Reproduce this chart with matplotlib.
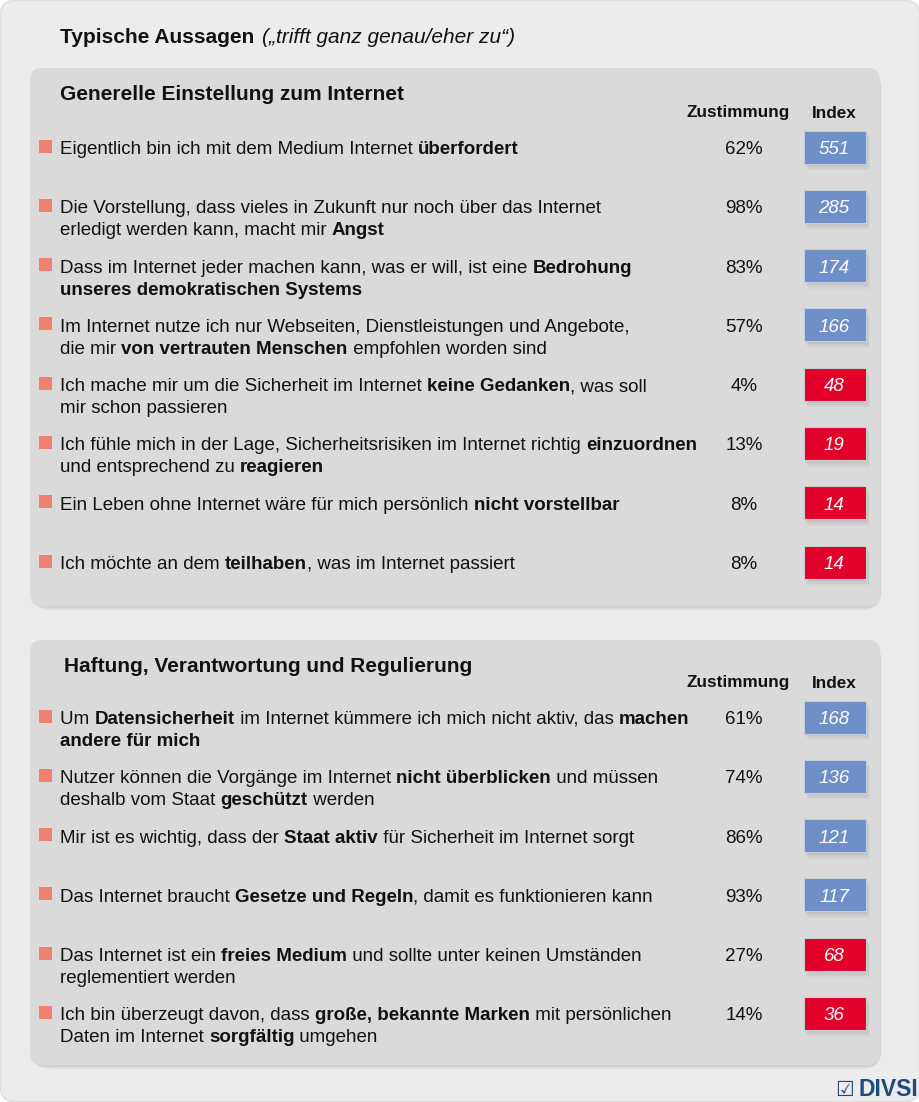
import matplotlib
matplotlib.use("Agg")
import matplotlib.pyplot as plt
from matplotlib.patches import FancyBboxPatch, Rectangle

plt.rcParams["font.family"] = ["Liberation Sans", "DejaVu Sans"]

W, H = 920, 1102

TITLE = "Typische Aussagen"
TITLE_NOTE = "(„trifft ganz genau/eher zu“)"

SECTION1 = "Generelle Einstellung zum Internet"
STATEMENTS1 = [
    "Eigentlich bin ich mit dem Medium Internet **überfordert**",
    "Die Vorstellung, dass vieles in Zukunft nur noch über das Internet\nerledigt werden kann, macht mir **Angst**",
    "Dass im Internet jeder machen kann, was er will, ist eine **Bedrohung**\n**unseres demokratischen Systems**",
    "Im Internet nutze ich nur Webseiten, Dienstleistungen und Angebote,\ndie mir **von vertrauten Menschen** empfohlen worden sind",
    "Ich mache mir um die Sicherheit im Internet **keine Gedanken**, was soll\nmir schon passieren",
    "Ich fühle mich in der Lage, Sicherheitsrisiken im Internet richtig **einzuordnen**\nund entsprechend zu **reagieren**",
    "Ein Leben ohne Internet wäre für mich persönlich **nicht vorstellbar**",
    "Ich möchte an dem **teilhaben**, was im Internet passiert",
]
ZUSTIMMUNG1 = [62, 98, 83, 57, 4, 13, 8, 8]
INDEX1 = [551, 285, 174, 166, 48, 19, 14, 14]

SECTION2 = "Haftung, Verantwortung und Regulierung"
STATEMENTS2 = [
    "Um **Datensicherheit** im Internet kümmere ich mich nicht aktiv, das **machen**\n**andere für mich**",
    "Nutzer können die Vorgänge im Internet **nicht überblicken** und müssen\ndeshalb vom Staat **geschützt** werden",
    "Mir ist es wichtig, dass der **Staat aktiv** für Sicherheit im Internet sorgt",
    "Das Internet braucht **Gesetze und Regeln**, damit es funktionieren kann",
    "Das Internet ist ein **freies Medium** und sollte unter keinen Umständen\nreglementiert werden",
    "Ich bin überzeugt davon, dass **große, bekannte Marken** mit persönlichen\nDaten im Internet **sorgfältig** umgehen",
]
ZUSTIMMUNG2 = [61, 74, 86, 93, 27, 14]
INDEX2 = [168, 136, 121, 117, 68, 36]

BG = "#ececec"
PANEL = "#dadada"
BULLET = "#f0806f"
BLUE = "#6e8fc7"
RED = "#e2002b"
TXT = "#111111"
FS = 13.5

fig = plt.figure(figsize=(W / 100, H / 100), dpi=100)
fig.patch.set_facecolor("white")
ax = fig.add_axes([0, 0, 1, 1])
ax.set_xlim(0, W)
ax.set_ylim(H, 0)
ax.axis("off")
renderer = fig.canvas.get_renderer()

# outer rounded background
ax.add_patch(FancyBboxPatch((0.5, 0.5), W - 1, H - 1, boxstyle="round,pad=0,rounding_size=14",
                            fc=BG, ec="#e0e0e0", lw=1, zorder=0))


def text_width(s, size=FS, **kw):
    # measure with a guard char so trailing spaces count
    t = ax.text(0, 0, s + "|", fontsize=size, **kw)
    g = ax.text(0, 0, "|", fontsize=size, **kw)
    w = t.get_window_extent(renderer).width - g.get_window_extent(renderer).width
    t.remove()
    g.remove()
    return w


def rich_line(x, y, line, color=TXT):
    parts = line.split("**")
    for i, p in enumerate(parts):
        if not p:
            continue
        wt = "bold" if i % 2 else "normal"
        ax.text(x, y, p, fontsize=FS, fontweight=wt, color=color, va="baseline",
                ha="left", zorder=3)
        x += text_width(p, fontweight=wt)


def shadow_box(x0, y0, w, h, rad, color, layers=7, spread=9, z=1):
    for k in range(layers, 0, -1):
        d = spread * k / layers
        ax.add_patch(FancyBboxPatch((x0 + d * 0.2, y0 + d * 0.5), w, h,
                                    boxstyle=f"round,pad=0,rounding_size={rad + d}",
                                    fc="#8a8a8a", ec="none", alpha=0.045, zorder=z))
    ax.add_patch(FancyBboxPatch((x0, y0), w, h, boxstyle=f"round,pad=0,rounding_size={rad}",
                                fc=color, ec="none", zorder=z + 0.5))


def panel(y0, y1, title, title_x, title_y, header_y, statements, pct, idx, row_y0):
    shadow_box(30, y0, 850, y1 - y0, 12, PANEL)
    ax.text(title_x, title_y, title, fontsize=15, fontweight="bold", color=TXT,
            va="center", ha="left", zorder=3)
    ax.text(738, header_y, "Zustimmung", fontsize=12.3, fontweight="bold", color=TXT,
            va="center", ha="center", zorder=3)
    ax.text(834, header_y, "Index", fontsize=12.3, fontweight="bold", color=TXT,
            va="center", ha="center", zorder=3)
    for i, (s, p, v) in enumerate(zip(statements, pct, idx)):
        yc = row_y0 + i * 59.3
        ax.add_patch(Rectangle((39, yc - 7.5), 13, 13, fc=BULLET, ec="none", zorder=3))
        for j, line in enumerate(s.split("\n")):
            rich_line(60, yc + 7 + j * 22, line)
        ax.text(744, yc + 7, f"{p}%", fontsize=FS, color=TXT, va="baseline", ha="center",
                zorder=3)
        col = BLUE if v > 100 else RED
        for k in range(5, 0, -1):
            ax.add_patch(Rectangle((804 + k * 0.8, yc - 16.5 + k * 1.3), 62, 33, fc="#888888",
                                   ec="none", alpha=0.07, zorder=3))
        ax.add_patch(Rectangle((804, yc - 16.5), 62, 33, fc=col, ec="#c8ccd4", lw=0.8, zorder=4))
        ax.text(834, yc + 7, str(v), fontsize=FS, style="italic", color="white",
                va="baseline", ha="center", zorder=5)


# title line
ax.text(60, 43, TITLE, fontsize=15, fontweight="bold", color=TXT, va="baseline", ha="left")
tw = text_width(TITLE + " ", size=15, fontweight="bold")
ax.text(60 + tw + 2, 43, TITLE_NOTE, fontsize=15, style="italic", color=TXT,
        va="baseline", ha="left")

panel(68, 606, SECTION1, 60, 94, 113, STATEMENTS1, ZUSTIMMUNG1, INDEX1, 147)
panel(640, 1065, SECTION2, 64, 666, 683, STATEMENTS2, ZUSTIMMUNG2, INDEX2, 717)

# logo
ax.text(845, 1090, "☑", fontsize=15, color="#1f4a7c", va="center", ha="center",
        family="DejaVu Sans")
ax.text(859, 1090, "DIVSI", fontsize=16.5, fontweight="bold", color="#1f4a7c",
        va="center", ha="left")

fig.savefig("out.png", dpi=100, facecolor=fig.get_facecolor())
